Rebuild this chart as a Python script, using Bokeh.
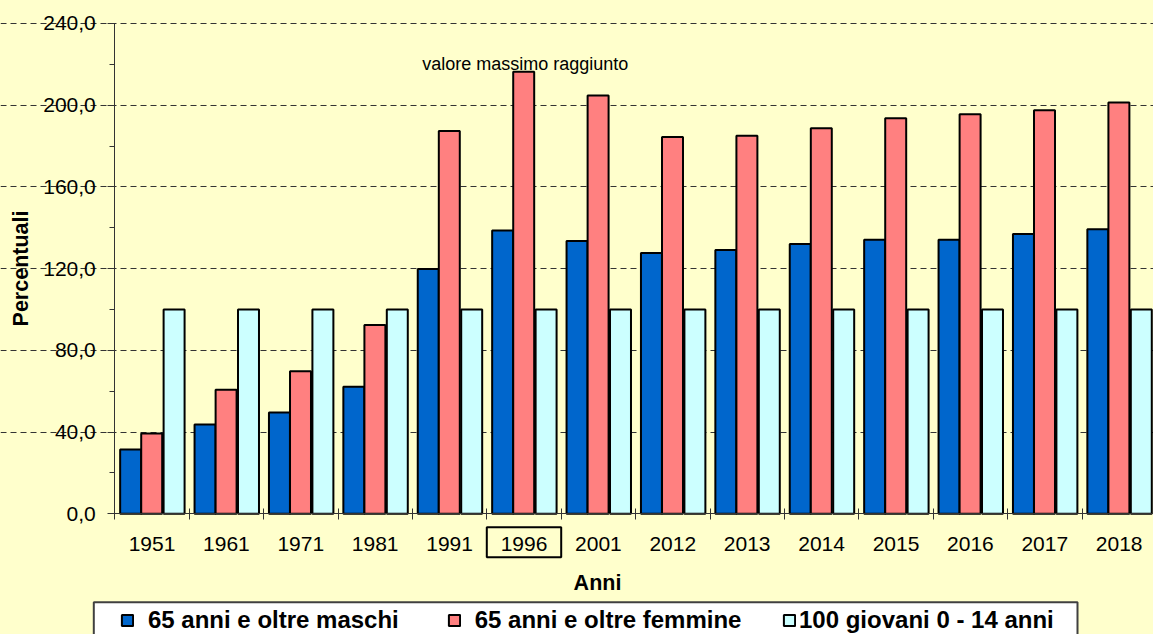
from bokeh.plotting import figure
from bokeh.models import (ColumnDataSource, LinearAxis, FixedTicker, Grid, Range1d,
                          Legend, LegendItem, BoxAnnotation)
from bokeh.core.properties import value
from bokeh.embed import file_html
from bokeh.resources import INLINE

# ---------------- data ----------------
years = ["1951", "1961", "1971", "1981", "1991", "1996", "2001",
         "2012", "2013", "2014", "2015", "2016", "2017", "2018"]
maschi = [31.5, 43.7, 49.6, 62.2, 119.8, 138.7, 133.5, 127.6, 129.1, 132.0, 134.2, 134.2, 137.0, 139.3]
femmine = [39.3, 60.7, 69.8, 92.4, 187.4, 216.4, 204.7, 184.4, 185.1, 188.7, 193.6, 195.6, 197.5, 201.3]
giovani = [100.0, 100.0, 100.0, 100.0, 100.0, 100.0, 100.0,
           100.0, 100.0, 100.0, 100.0, 100.0, 100.0, 100.0]
series_names = ["65 anni e oltre maschi", "65 anni e oltre femmine", "100 giovani 0 - 14 anni"]
y_ticks = [0, 40, 80, 120, 160, 200, 240]
y_tick_labels = ["0,0", "40,0", "80,0", "120,0", "160,0", "200,0", "240,0"]
peak_year = "1996"
annotation_text = "valore massimo raggiunto"
x_title = "Anni"
y_title = "Percentuali"

# ---------------- styling / layout ----------------
BG = "#FFFFCC"
COLORS = ["#0066CC", "#FF8080", "#CCFFFF"]
FONT = "Liberation Sans"
W, H = 1153, 634
X0, CAT = 114.3, 74.4     # pixel x of first category boundary, px per category
Y0, PXU = 513.3, 2.043    # pixel y of value 0, px per unit

def wx(px):  # pixel x -> data x
    return (px - X0) / CAT

def wy(py):  # pixel y -> data y
    return (Y0 - py) / PXU

n = len(years)

p = figure(width=W, height=H, x_range=Range1d(wx(0), wx(W)), y_range=Range1d(wy(H), wy(0)),
           x_axis_type=None, y_axis_type=None, toolbar_location=None, output_backend="svg",
           min_border=0, min_border_left=0, min_border_right=0, min_border_top=0, min_border_bottom=0,
           background_fill_color=BG, border_fill_color=BG, outline_line_color=None, title=None)

idx = list(range(n))
centers = [i + 0.5 for i in idx]
bw = 0.282
offsets = [-0.287, -0.004, 0.297]
renderers = []
for vals, col, off in zip([maschi, femmine, giovani], COLORS, offsets):
    src = ColumnDataSource(dict(x=[c + off for c in centers], top=vals))
    r = p.vbar(x="x", top="top", width=bw, bottom=0, source=src,
               fill_color=col, line_color="black", line_width=2)
    renderers.append(r)

# grid (dashed) from 40 to 240
grid = Grid(dimension=1, ticker=FixedTicker(ticks=y_ticks[1:]), bounds=(0, n),
            grid_line_color="#333333", grid_line_width=1, grid_line_dash="6 4")
p.add_layout(grid)

# y axis
yax = LinearAxis(fixed_location=0, bounds=(y_ticks[0], y_ticks[-1]),
                 ticker=FixedTicker(ticks=y_ticks,
                                    minor_ticks=[t + 20 for t in y_ticks[:-1]]),
                 major_label_overrides={t: l for t, l in zip(y_ticks, y_tick_labels)},
                 axis_label=y_title)
yax.axis_line_color = "#333333"
yax.major_tick_line_color = "#333333"
yax.minor_tick_line_color = "#333333"
yax.major_tick_in = 0
yax.major_tick_out = 7
yax.minor_tick_in = 0
yax.minor_tick_out = 5
yax.major_label_standoff = 12
yax.major_label_text_font = FONT
yax.major_label_text_font_size = "21px"
yax.major_label_text_color = "black"
yax.axis_label_text_font = FONT
yax.axis_label_text_font_size = "21.5px"
yax.axis_label_text_font_style = "bold"
yax.axis_label_text_color = "black"
yax.axis_label_standoff = 7
p.add_layout(yax, "left")

# x axis: labels at category centres, tick marks at boundaries
xax = LinearAxis(fixed_location=0, bounds=(0, n),
                 ticker=FixedTicker(ticks=centers, minor_ticks=list(range(n + 1))),
                 major_label_overrides={c: y for c, y in zip(centers, years)})
xax.axis_line_color = "#333333"
xax.major_tick_line_color = None
xax.minor_tick_line_color = "#333333"
xax.minor_tick_in = 5
xax.minor_tick_out = 6
xax.major_tick_out = 6
xax.major_label_standoff = 17
xax.major_label_text_font = FONT
xax.major_label_text_font_size = "21px"
xax.major_label_text_color = "black"
p.add_layout(xax, "below")

# x axis title
p.text(x=[wx(597)], y=[wy(582.7)], text=[x_title], text_align="center",
       text_baseline="alphabetic", text_font=value(FONT), text_font_size="21.5px",
       text_font_style="bold", text_color="black")

# annotation above the peak
p.text(x=[wx(421.7)], y=[wy(63.3)], text=[annotation_text], text_align="left",
       text_baseline="alphabetic", text_font=value(FONT), text_font_size="18px",
       text_color="black")

# box around the peak year label
k = years.index(peak_year)
p.quad(left=[k], right=[k + 1], top=[wy(526.7)], bottom=[wy(556.7)],
       fill_color=None, line_color="black", line_width=2)

# legend box
box = BoxAnnotation(left=wx(93.3), right=wx(1077), top=wy(601.7), bottom=wy(670),
                    fill_color="white", fill_alpha=1, line_color="#404040", line_width=2,
                    line_alpha=1)
p.add_layout(box)

# legend entries (one legend per entry to match positions)
glyph_left = [120, 446.7, 782]
standoffs = [14, 14, 3]
for name, r, gx, so in zip(series_names, renderers, glyph_left, standoffs):
    lg = Legend(items=[LegendItem(label=name, renderers=[r])],
                location=(gx, 0), orientation="horizontal",
                padding=0, margin=0, spacing=0, glyph_width=14, glyph_height=14,
                label_standoff=so, label_text_font=FONT, label_text_font_size="24px",
                label_text_font_style="bold", label_text_color="black",
                background_fill_alpha=0, border_line_color=None)
    p.add_layout(lg)

html = file_html(p, INLINE)
html = html.replace("</head>", "<style>html,body{background:#FFFFCC;}</style></head>", 1)
open("out.html", "w").write(html)
